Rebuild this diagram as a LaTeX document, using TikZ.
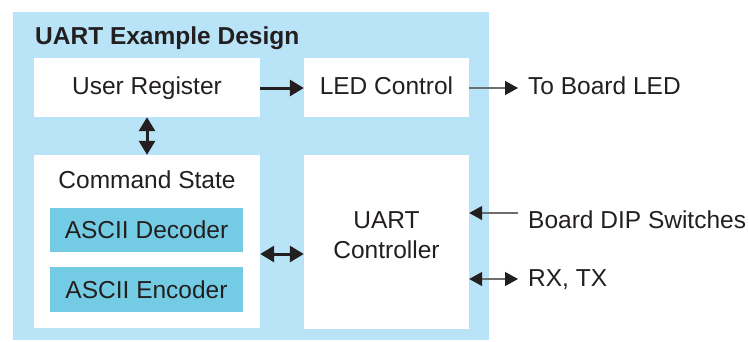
\documentclass[tikz,border=0pt]{standalone}
\usepackage{fontspec}
\setmainfont{Liberation Sans}
\usetikzlibrary{arrows.meta}
\definecolor{lightbg}{HTML}{B9E4F8}
\definecolor{darkbox}{HTML}{74CCE4}
\definecolor{ink}{HTML}{231F20}
\definecolor{thinline}{HTML}{6D6E70}
\begin{document}
\begin{tikzpicture}[x=1pt,y=-1pt,
  every node/.style={font=\fontsize{24.5}{30}\selectfont, text=ink, inner sep=0pt},
  whitebox/.style={fill=white, draw=none, minimum width=#1},
  bluebox/.style={fill=darkbox, draw=none, minimum width=193pt, minimum height=44pt},
  thick arrow/.style={draw=ink, line width=3pt},
  thin arrow/.style={draw=thinline, line width=1.3pt}
]
\useasboundingbox (0,0) rectangle (749,341);
\fill[lightbg] (13,12) rectangle (489,340);
\node[anchor=base west, font=\fontsize{24.5}{30}\selectfont\bfseries] (title) at (35,44) {UART Example Design};

\node[whitebox=226pt, minimum height=59pt] (ureg) at (147,87.5) {};
\node[anchor=base] (uregt) at (147,94) {User Register};
\node[whitebox=165pt, minimum height=59pt] (led) at (386.5,87.5) {};
\node[anchor=base] (ledt) at (386.5,94) {LED Control};

\node[whitebox=226pt, minimum height=173pt] (cmd) at (147,241.5) {};
\node[anchor=base] (cmdt) at (147,188) {Command State};
\node[bluebox] (dec) at (146.5,229.5) {};
\node[anchor=base] (dect) at (146.5,238) {ASCII Decoder};
\node[bluebox, minimum height=45pt] (enc) at (146.5,289.5) {};
\node[anchor=base] (enct) at (146.5,298) {ASCII Encoder};

\node[whitebox=165pt, minimum height=174pt] (ctrl) at (386.5,242) {};
\node[anchor=base] (ctrlt1) at (386.5,228) {UART};
\node[anchor=base] (ctrlt2) at (386.5,258) {Controller};

\node[anchor=base west] (boardled) at (528,94) {To Board LED};
\node[anchor=base west] (dip) at (528,228) {Board DIP Switches};
\node[anchor=base west] (rxtx) at (528,286) {RX, TX};

\coordinate (ledout) at (518,88);
\coordinate (dipin) at (518,213);
\coordinate (rxout) at (518,279);
\coordinate (mid) at (0,254);

\draw[thick arrow, -{Triangle[length=14pt,width=16pt]}] (ureg.east |- 0,88) -- (led.west |- 0,88);
\draw[thick arrow, {Triangle[length=14pt,width=16pt]}-{Triangle[length=14pt,width=16pt]}] (ureg.south) -- (cmd.north);
\draw[thick arrow, {Triangle[length=14pt,width=16pt]}-{Triangle[length=14pt,width=16pt]}] (cmd.east |- mid) -- (ctrl.west |- mid);

\draw[thin arrow, -{Triangle[length=13pt,width=14pt,color=ink,fill=ink]}] (led.east |- ledout) -- (ledout);
\draw[thin arrow, -{Triangle[length=13pt,width=14pt,color=ink,fill=ink]}] (dipin) -- (ctrl.east |- dipin);
\draw[thin arrow, {Triangle[length=13pt,width=14pt,color=ink,fill=ink]}-{Triangle[length=13pt,width=14pt,color=ink,fill=ink]}] (ctrl.east |- rxout) -- (rxout);
\end{tikzpicture}
\end{document}
